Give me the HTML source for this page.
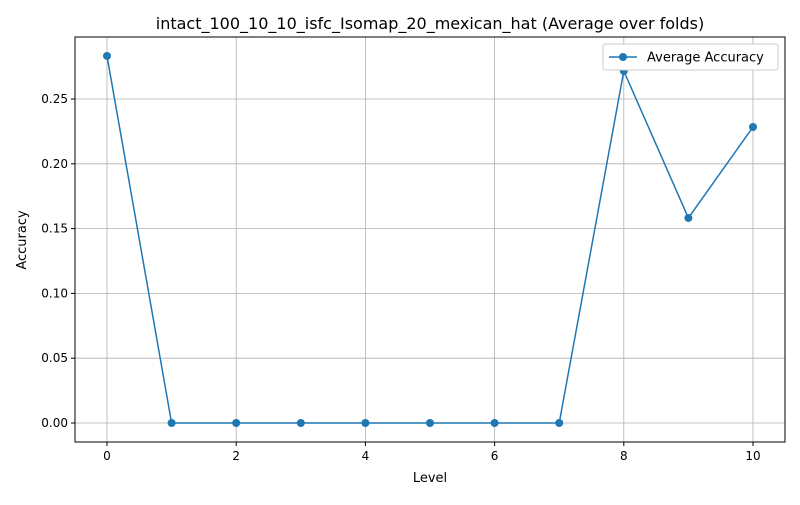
<!DOCTYPE html>
<html><head><meta charset="utf-8"><style>
body{margin:0;background:#fff;font-family:"Liberation Sans","DejaVu Sans",sans-serif;}
svg text{font-family:"DejaVu Sans","Liberation Sans",sans-serif;}
</style></head><body>
<svg id="chart" width="800" height="500" xmlns="http://www.w3.org/2000/svg">
<rect width="800" height="500" fill="#fff"/>
<g id="grid"></g><g id="axes"></g><g id="series"></g>
<text x="430" y="29" font-size="16" text-anchor="middle">intact_100_10_10_isfc_Isomap_20_mexican_hat (Average over folds)</text>
<text x="430" y="482" font-size="13" text-anchor="middle">Level</text>
<text x="26" y="240" font-size="13" text-anchor="middle" transform="rotate(-90 26 240)">Accuracy</text>
<g>
<rect x="603" y="44" width="175" height="26" fill="#fff" stroke="#ccc" rx="2"/>
<line x1="609" y1="57" x2="637" y2="57" stroke="#1f77b4" stroke-width="1.5"/>
<circle cx="623" cy="57" r="4" fill="#1f77b4"/>
<text x="647" y="61.5" font-size="13">Average Accuracy</text>
</g>
</svg>
<script>
const levels=[0,1,2,3,4,5,6,7,8,9,10];
const accuracy=[0.2832,0,0,0,0,0,0,0,0.2716,0.1582,0.2284];
const xTicks=[0,2,4,6,8,10];
const yTicks=[0,0.05,0.10,0.15,0.20,0.25];
const yTickLabels=["0.00","0.05","0.10","0.15","0.20","0.25"];
const L=75,R=785,T=37,B=442;
const xs=v=>107+v*64.6;
const ys=v=>423-v*1296;
const NS="http://www.w3.org/2000/svg";
function mk(tag,attrs,parent){const e=document.createElementNS(NS,tag);for(const k in attrs)e.setAttribute(k,attrs[k]);parent.appendChild(e);return e;}
const grid=document.getElementById('grid'),axes=document.getElementById('axes'),series=document.getElementById('series');
xTicks.forEach(t=>{const x=xs(t);
const g=mk('line',{x1:x,x2:x,y1:T,y2:B,stroke:'#b0b0b0','stroke-width':0.8},grid);


mk('line',{x1:x,x2:x,y1:B,y2:B+4,stroke:'#000'},axes);
const tx=mk('text',{x:x,y:B+18,'font-size':12,'text-anchor':'middle'},axes);tx.textContent=t;

});
yTicks.forEach((t,i)=>{const y=ys(t);
const g=mk('line',{x1:L,x2:R,y1:y,y2:y,stroke:'#b0b0b0','stroke-width':0.8},grid);


mk('line',{x1:L-4,x2:L,y1:y,y2:y,stroke:'#000'},axes);
const tx=mk('text',{x:L-7,y:y+4,'font-size':12,'text-anchor':'end'},axes);tx.textContent=yTickLabels[i];

});
const fr=mk('rect',{x:L,y:T,width:R-L,height:B-T,fill:'none',stroke:'#000','stroke-width':1},axes);


const pl=mk('polyline',{points:levels.map((l,i)=>xs(l)+','+ys(accuracy[i])).join(' '),fill:'none',stroke:'#1f77b4','stroke-width':1.5},series);


levels.forEach((l,i)=>{const c=mk('circle',{cx:xs(l),cy:ys(accuracy[i]),r:4,fill:'#1f77b4'},series);

});
</script>
</body></html>
